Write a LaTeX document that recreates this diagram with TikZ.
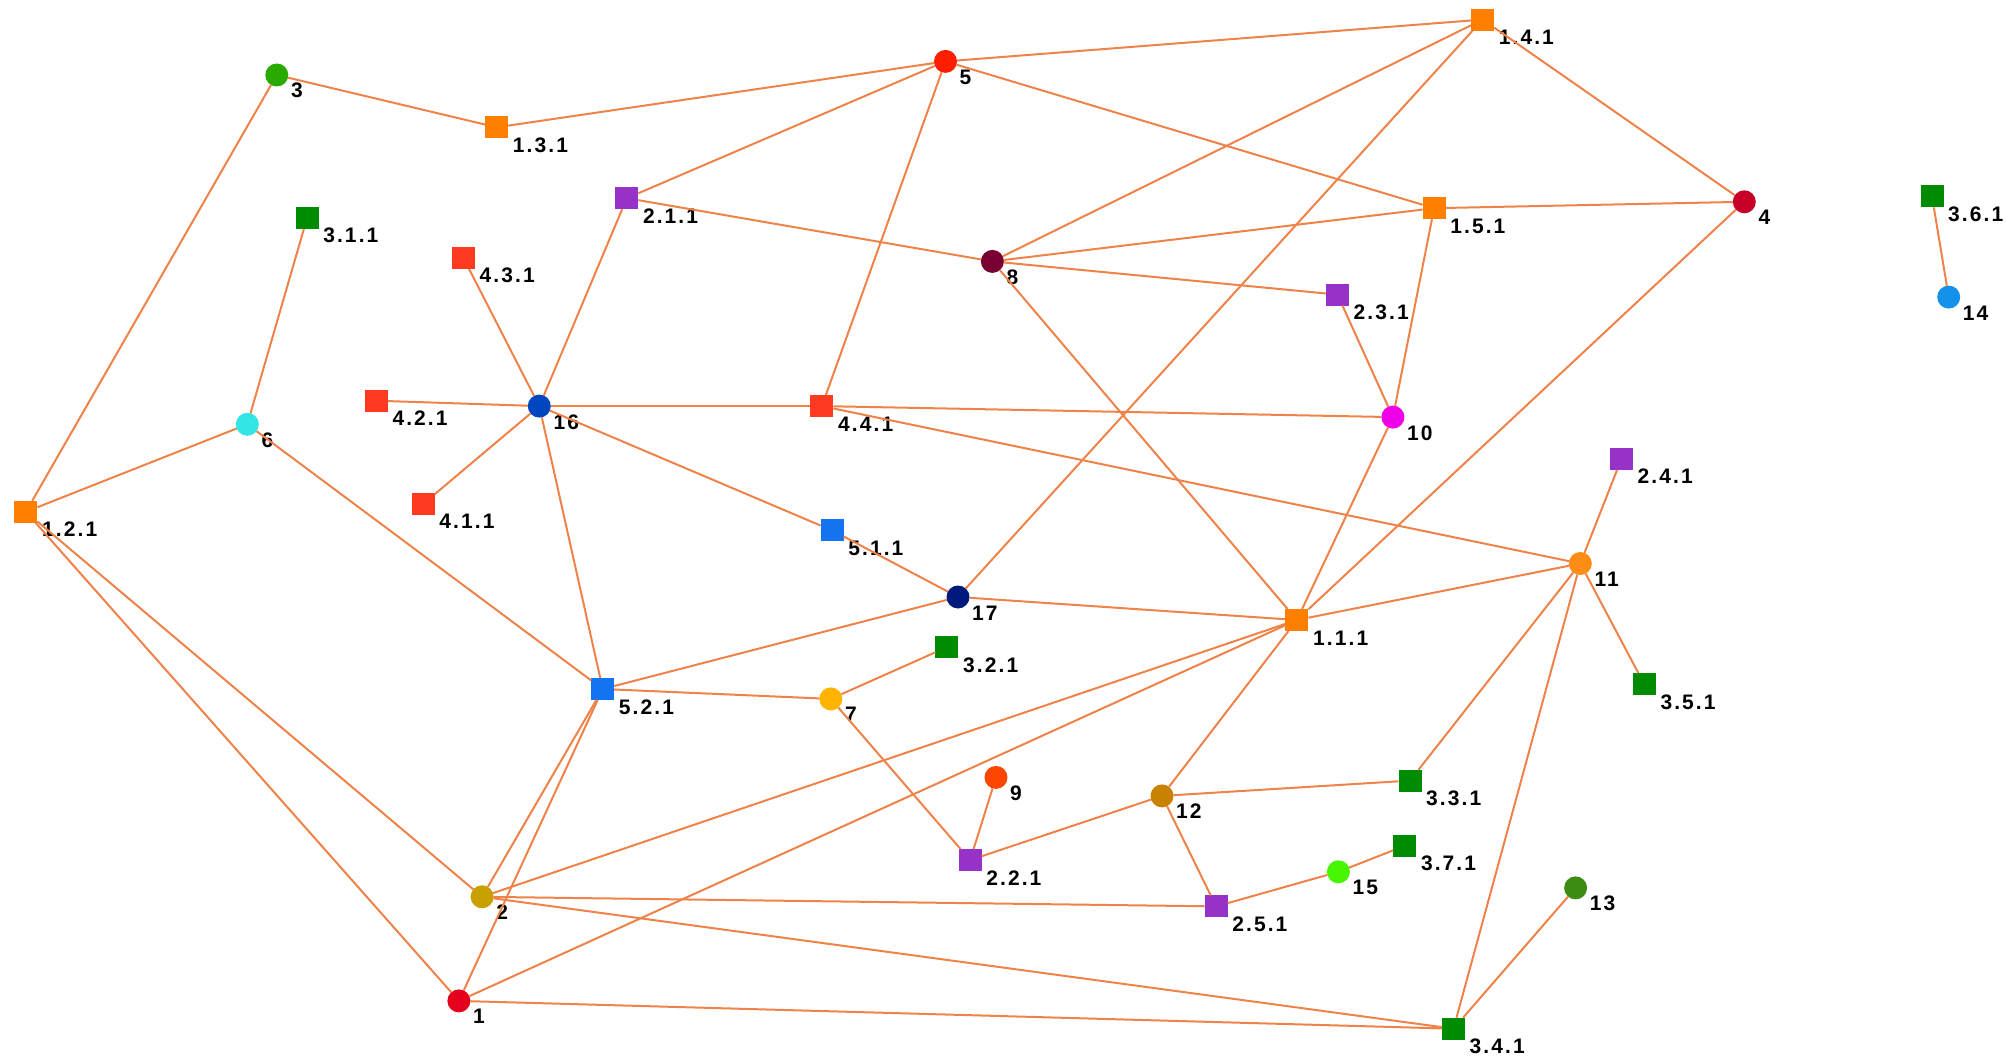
\documentclass[tikz,border=0pt]{standalone}
\usepackage{fontspec}
\newfontfamily\lblfont{Liberation Sans}[LetterSpace=10]
\usetikzlibrary{calc}
\definecolor{edgec}{RGB}{238,130,72}
\definecolor{orsq}{RGB}{255,128,0}
\definecolor{pusq}{RGB}{150,50,200}
\definecolor{grsq}{RGB}{0,140,0}
\definecolor{resq}{RGB}{255,58,32}
\definecolor{blsq}{RGB}{20,115,240}
\definecolor{k1}{RGB}{230,0,30}
\definecolor{k2}{RGB}{200,160,0}
\definecolor{k3}{RGB}{40,170,0}
\definecolor{k4}{RGB}{200,0,40}
\definecolor{k5}{RGB}{255,30,0}
\definecolor{k6}{RGB}{50,230,230}
\definecolor{k7}{RGB}{255,180,0}
\definecolor{k8}{RGB}{120,0,50}
\definecolor{k9}{RGB}{255,70,0}
\definecolor{k10}{RGB}{240,0,230}
\definecolor{k11}{RGB}{255,140,20}
\definecolor{k12}{RGB}{200,130,0}
\definecolor{k13}{RGB}{60,140,20}
\definecolor{k14}{RGB}{20,145,235}
\definecolor{k15}{RGB}{70,245,0}
\definecolor{k16}{RGB}{0,70,190}
\definecolor{k17}{RGB}{0,25,125}
\tikzset{
  cvert/.style={circle, inner sep=0pt, outer sep=0pt, minimum size=23pt, draw=none},
  svert/.style={rectangle, inner sep=0pt, outer sep=0pt, minimum width=23pt, minimum height=22pt, draw=none},
  lbl/.style={anchor=base west, inner sep=0pt, font=\lblfont\bfseries\fontsize{21}{25}\selectfont, text=black},
  edge/.style={draw=edgec, line width=2pt}
}
\newcommand\cvx[5]{\node[cvert, fill=#4] (#1) at (#2,#3) {};
  \path (#1.center) ++(14,23) node[lbl] (#1l) {#5};}
\newcommand\svx[5]{\node[svert, fill=#4] (#1) at (#2,#3) {};
  \path (#1.center) ++(16,25) node[lbl] (#1l) {#5};}
\begin{document}
\begin{tikzpicture}[x=1pt, y=-1pt]
\useasboundingbox (0,0) rectangle (2008,1059);
% circles
\cvx{c1}{458.9}{1000.9}{k1}{1}
\cvx{c2}{482.1}{896.8}{k2}{2}
\cvx{c3}{276.8}{75.0}{k3}{3}
\cvx{c4}{1744.3}{201.8}{k4}{4}
\cvx{c5}{945.5}{61.4}{k5}{5}
\cvx{c6}{247.3}{424.3}{k6}{6}
\cvx{c7}{830.8}{698.9}{k7}{7}
\cvx{c8}{992.4}{261.4}{k8}{8}
\cvx{c9}{996}{777.4}{k9}{9}
\cvx{c10}{1392.9}{417.1}{k10}{10}
\cvx{c11}{1580.3}{563.5}{k11}{11}
\cvx{c12}{1162}{795.9}{k12}{12}
\cvx{c13}{1575.6}{887.9}{k13}{13}
\cvx{c14}{1948.7}{297.1}{k14}{14}
\cvx{c15}{1338.4}{871.8}{k15}{15}
\cvx{c16}{539.3}{406.1}{k16}{16}
\cvx{c17}{958}{597}{k17}{17}
% squares
\svx{s111}{1296.9}{620}{orsq}{1.1.1}
\svx{s121}{25.9}{511.8}{orsq}{1.2.1}
\svx{s131}{496.7}{127.3}{orsq}{1.3.1}
\svx{s141}{1482.6}{19.6}{orsq}{1.4.1}
\svx{s151}{1434.1}{208.2}{orsq}{1.5.1}
\svx{s211}{626.8}{198.2}{pusq}{2.1.1}
\svx{s221}{970.1}{860.1}{pusq}{2.2.1}
\svx{s231}{1337.5}{294.6}{pusq}{2.3.1}
\svx{s241}{1621.4}{458.9}{pusq}{2.4.1}
\svx{s251}{1216.1}{906.4}{pusq}{2.5.1}
\svx{s311}{307.1}{217.9}{grsq}{3.1.1}
\svx{s321}{946.9}{647.2}{grsq}{3.2.1}
\svx{s331}{1410}{780.6}{grsq}{3.3.1}
\svx{s341}{1453.5}{1028.7}{grsq}{3.4.1}
\svx{s351}{1644.3}{684.3}{grsq}{3.5.1}
\svx{s361}{1932}{196.4}{grsq}{3.6.1}
\svx{s371}{1404.8}{845.8}{grsq}{3.7.1}
\svx{s411}{423.2}{503.9}{resq}{4.1.1}
\svx{s421}{376.3}{400.7}{resq}{4.2.1}
\svx{s431}{463.4}{257.9}{resq}{4.3.1}
\svx{s441}{821.9}{406.1}{resq}{4.4.1}
\svx{s511}{832.1}{530.4}{blsq}{5.1.1}
\svx{s521}{602.7}{689}{blsq}{5.2.1}
% edges
\foreach \a/\b in {c3/s131, c3/s121, s131/c5, c5/s141, c5/s211, c5/s151, c5/s441,
  s141/c8, s141/c17, s141/c4, s211/c8, s211/c16, c8/s151, c8/s231, c8/s111,
  s151/c4, s151/c10, s231/c10, c4/s111, s311/c6, s431/c16, s421/c16, c16/s441,
  s441/c10, s441/c11, c16/s411, c16/s511, s511/c17, c16/s521, c6/s121, c6/s521,
  s121/c2, s121/c1, s521/c17, s521/c7, s521/c2, s521/c1, c17/s111, c7/s321,
  c7/s221, c9/s221, s221/c12, c12/s111, c12/s331, c12/s251, s251/c15, c15/s371,
  c2/s111, c1/s111, c2/s251, c2/s341, c1/s341, s111/c11, s111/c10, c11/s241,
  c11/s351, c11/s331, c11/s341, s341/c13, s361/c14}
  \draw[edge] (\a) -- (\b);
\end{tikzpicture}
\end{document}
